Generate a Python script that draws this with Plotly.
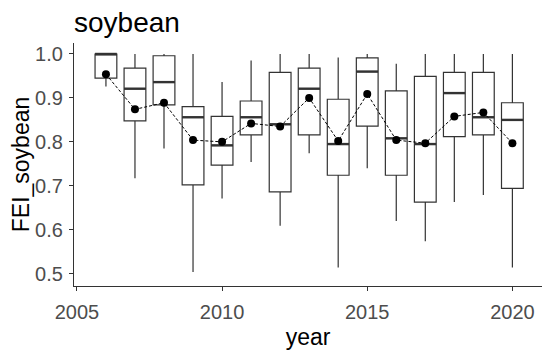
import plotly.graph_objects as go

years = [2006, 2007, 2008, 2009, 2010, 2011, 2012, 2013, 2014, 2015, 2016, 2017, 2018, 2019, 2020]
q1 = [0.945, 0.848, 0.884, 0.702, 0.747, 0.816, 0.686, 0.816, 0.724, 0.836, 0.724, 0.663, 0.812, 0.816, 0.694]
median = [1.000, 0.921, 0.936, 0.856, 0.792, 0.856, 0.840, 0.921, 0.795, 0.960, 0.808, 0.795, 0.911, 0.856, 0.850]
q3 = [1.000, 0.968, 0.996, 0.880, 0.858, 0.893, 0.958, 0.968, 0.897, 0.991, 0.916, 0.949, 0.958, 0.958, 0.889]
lower = [0.926, 0.717, 0.785, 0.504, 0.671, 0.754, 0.609, 0.774, 0.514, 0.740, 0.620, 0.574, 0.663, 0.679, 0.514]
upper = [1.000, 1.000, 1.000, 1.000, 0.936, 0.985, 1.000, 1.000, 0.992, 1.000, 0.978, 1.000, 1.000, 1.000, 1.000]
means = [0.954, 0.874, 0.889, 0.804, 0.800, 0.842, 0.835, 0.900, 0.802, 0.909, 0.804, 0.797, 0.858, 0.867, 0.797]

x_ticks = [2005, 2010, 2015, 2020]
y_ticks = [0.5, 0.6, 0.7, 0.8, 0.9, 1.0]
box_w = 0.75

fig = go.Figure()
fig.add_trace(go.Box(
    x=years, q1=q1, median=median, q3=q3, lowerfence=lower, upperfence=upper,
    width=box_w, whiskerwidth=0, fillcolor="white",
    line=dict(color="#333333", width=1.2), boxpoints=False, showlegend=False,
))

mx, my = [], []
for yr, md in zip(years, median):
    mx += [yr - box_w / 2, yr + box_w / 2, None]
    my += [md, md, None]
fig.add_trace(go.Scatter(x=mx, y=my, mode="lines", line=dict(color="#333333", width=2.4),
                         showlegend=False, hoverinfo="skip"))

fig.add_trace(go.Scatter(
    x=years, y=means, mode="lines+markers",
    line=dict(color="black", width=1, dash="3px,2px"),
    marker=dict(color="black", size=8), showlegend=False,
))

# page body has an 8px default margin, so the figure is offset by 8px
fig.update_layout(
    width=542, height=343,
    margin=dict(l=66, r=8, t=35, b=65),
    plot_bgcolor="white", paper_bgcolor="white",
    font=dict(family="Liberation Sans, Arial, sans-serif"),
    title=dict(text="soybean", x=66 / 542, xanchor="left", xref="container",
               y=1 - 14 / 343, yanchor="middle", yref="container",
               font=dict(size=28, color="black")),
    xaxis=dict(range=[2004.9, 2021.02], tickvals=x_ticks, ticktext=[str(t) for t in x_ticks],
               showgrid=False, zeroline=False, showline=True, linecolor="#333333", linewidth=1.2,
               ticks="outside", ticklen=4, tickcolor="#333333", tickwidth=1.1,
               tickfont=dict(size=20, color="#4D4D4D"), automargin=False, ticklabelstandoff=4,
               title=dict(text="year", font=dict(size=23, color="black"), standoff=6)),
    yaxis=dict(range=[0.472, 1.025], tickvals=y_ticks, ticktext=[f"{t:.1f}" for t in y_ticks],
               showgrid=False, zeroline=False, showline=True, linecolor="#333333", linewidth=1.2,
               ticks="outside", ticklen=4, tickcolor="#333333", tickwidth=1.1,
               tickfont=dict(size=20, color="#4D4D4D"), automargin=False, ticklabelstandoff=2,
               title=dict(text="FEI_soybean", font=dict(size=23, color="black"), standoff=10)),
)

fig.write_html("out.html")
